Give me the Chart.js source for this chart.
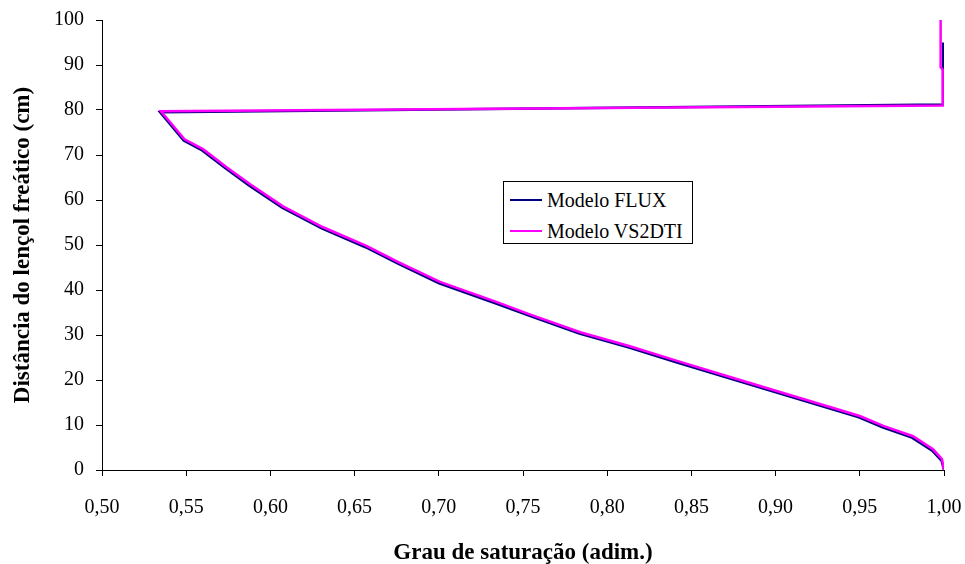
<!DOCTYPE html>
<html>
<head>
<meta charset="utf-8">
<script src="https://cdn.jsdelivr.net/npm/chart.js@4.4.1/dist/chart.umd.min.js"></script>
<style>
  html, body { margin: 0; padding: 0; background: #fff; }
  #wrap { position: relative; width: 965px; height: 564px; }
  #legend {
    position: absolute; left: 503px; top: 181px; width: 188px; height: 61px;
    border: 1px solid #000; background: #fff;
    font-family: "Liberation Serif", "Times New Roman", serif; font-size: 20px; color: #000;
  }
  .row { position: absolute; left: 0; height: 24px; line-height: 24px; white-space: nowrap; }
  .row span.swatch { position: absolute; left: 6px; top: 11px; width: 32px; height: 2px; }
  .row span.label { position: absolute; left: 43px; top: 0; }
</style>
</head>
<body>
<div id="wrap">
  <canvas id="chart"></canvas>
  <div id="legend"></div>
</div>
<script>
  // Saturation (x) vs distance to water table (y, cm)
  const fluxSat = [0.9995, 0.9995, 0.5345, 0.5485, 0.5595, 0.5735, 0.5875, 0.607, 0.6305, 0.6565, 0.6755, 0.7002, 0.734, 0.7535, 0.7835, 0.813, 0.8415, 0.8705, 0.9095, 0.9495, 0.9635, 0.981, 0.993, 0.9985, 1.0];
  const fluxDist = [95, 81.2, 79.5, 73.2, 71.0, 67.0, 63.2, 58.3, 53.7, 49.5, 45.9, 41.5, 37.0, 34.3, 30.3, 27.2, 23.9, 20.6, 16.2, 11.7, 9.5, 7.2, 4.3, 2.1, 0];

  const vsSat = [0.998, 0.998, 0.9992, 0.9992, 0.535, 0.549, 0.560, 0.574, 0.588, 0.6075, 0.631, 0.657, 0.676, 0.7007, 0.7346, 0.754, 0.784, 0.8135, 0.842, 0.871, 0.910, 0.950, 0.964, 0.9816, 0.9935, 0.9988, 1.0];
  const vsDist = [100, 89.5, 89, 81, 79.7, 73.5, 71.3, 67.3, 63.5, 58.6, 54.0, 49.8, 46.2, 41.8, 37.3, 34.6, 30.6, 27.5, 24.2, 20.9, 16.5, 12.0, 9.8, 7.5, 4.6, 2.4, 0];

  const seriesNames = ['Modelo FLUX', 'Modelo VS2DTI'];
  const seriesColors = ['#000080', '#FF00FF'];

  const xMin = 0.5, xMax = 1.0, xStep = 0.05;
  const yMin = 0, yMax = 100, yStep = 10;

  const serif = '"Liberation Serif", "Times New Roman", serif';

  function toPoints(xs, ys) {
    return xs.map((x, i) => ({ x: x, y: ys[i] }));
  }

  // legend box sits inside the plot, so build it as html
  const legendEl = document.getElementById('legend');
  seriesNames.forEach((name, i) => {
    const row = document.createElement('div');
    row.className = 'row';
    row.style.top = (i === 0 ? 6 : 37) + 'px';
    row.innerHTML = '<span class="swatch" style="background:' + seriesColors[i] + '"></span>' +
      '<span class="label">' + name + '</span>';
    legendEl.appendChild(row);
  });

  const ctx = document.getElementById('chart').getContext('2d');
  new Chart(ctx, {
    type: 'scatter',
    data: {
      datasets: [
        {
          label: seriesNames[0],
          data: toPoints(fluxSat, fluxDist),
          showLine: true,
          borderColor: seriesColors[0],
          backgroundColor: seriesColors[0],
          borderWidth: 2.5,
          pointRadius: 0,
          tension: 0,
          order: 1
        },
        {
          label: seriesNames[1],
          data: toPoints(vsSat, vsDist),
          showLine: true,
          borderColor: seriesColors[1],
          backgroundColor: seriesColors[1],
          borderWidth: 2.5,
          pointRadius: 0,
          tension: 0,
          order: 0
        }
      ]
    },
    options: {
      responsive: true,
      maintainAspectRatio: false,
      animation: false,
      layout: { padding: { left: 0, right: 21, top: 20, bottom: 0 } },
      plugins: {
        legend: { display: false },
        tooltip: { enabled: false }
      },
      scales: {
        x: {
          type: 'linear',
          min: xMin,
          max: xMax,
          afterFit: scale => {
            scale.height = 94;
            scale.paddingLeft = 0;
            scale.paddingRight = 0;
          },
          ticks: {
            stepSize: xStep,
            padding: 20,
            color: '#000',
            font: { family: serif, size: 20 },
            maxRotation: 0,
            callback: v => v.toFixed(2).replace('.', ',')
          },
          grid: { drawOnChartArea: false, drawTicks: true, tickLength: 6, color: '#000' },
          border: { color: '#000', width: 1 },
          title: {
            display: true,
            text: 'Grau de saturação (adim.)',
            color: '#000',
            font: { family: serif, size: 23, weight: 'bold' },
            padding: { top: 0, bottom: -3 }
          }
        },
        y: {
          min: yMin,
          max: yMax,
          afterFit: scale => {
            scale.width = 102;
            scale.paddingTop = 0;
            scale.paddingBottom = 0;
          },
          ticks: {
            stepSize: yStep,
            padding: 12,
            color: '#000',
            font: { family: serif, size: 20 }
          },
          grid: { drawOnChartArea: false, drawTicks: true, tickLength: 6, color: '#000' },
          border: { color: '#000', width: 1 },
          title: {
            display: true,
            text: 'Distância do lençol freático (cm)',
            color: '#000',
            font: { family: serif, size: 23, weight: 'bold' },
            padding: { top: 9, bottom: 0 }
          }
        }
      }
    }
  });
</script>
</body>
</html>
